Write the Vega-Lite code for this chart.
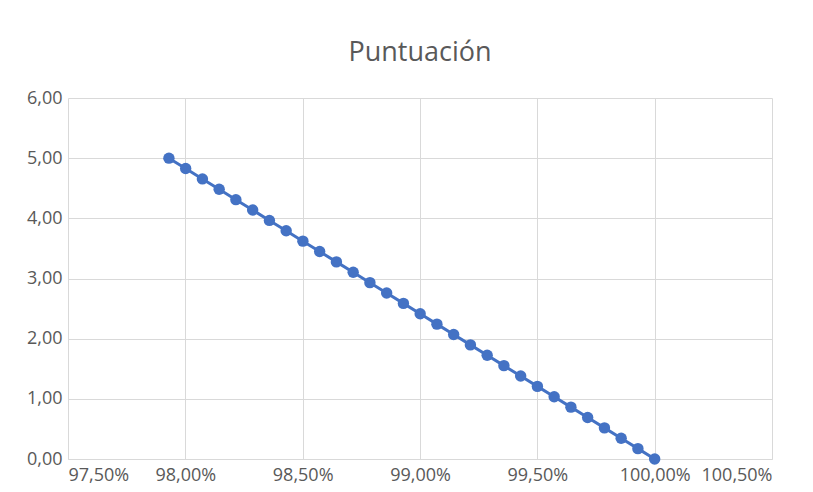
{
  "$schema": "https://vega.github.io/schema/vega-lite/v6.json",
  "width": 704,
  "height": 361,
  "autosize": {"type": "none"},
  "padding": {"left": 68, "top": 98, "right": 41, "bottom": 33},
  "background": "white",
  "title": {"text": "Puntuación", "font": "Open Sans", "fontSize": 27, "fontWeight": "normal", "color": "#595959", "anchor": "middle", "offset": 22},
  "config": {
    "locale": {"number": {"decimal": ",", "thousands": ".", "grouping": [3], "currency": ["", " €"]}},
    "view": {"stroke": null},
    "axis": {"labelFont": "Open Sans", "labelFontSize": 18, "labelColor": "#595959", "gridColor": "#d9d9d9", "gridWidth": 1, "domainColor": "#d9d9d9", "ticks": false, "title": null}
  },
  "data": {"values": [
    {"pct": 0.979300, "score": 5.0000},
    {"pct": 0.980014, "score": 4.8276},
    {"pct": 0.980728, "score": 4.6552},
    {"pct": 0.981441, "score": 4.4828},
    {"pct": 0.982155, "score": 4.3103},
    {"pct": 0.982869, "score": 4.1379},
    {"pct": 0.983583, "score": 3.9655},
    {"pct": 0.984297, "score": 3.7931},
    {"pct": 0.985010, "score": 3.6207},
    {"pct": 0.985724, "score": 3.4483},
    {"pct": 0.986438, "score": 3.2759},
    {"pct": 0.987152, "score": 3.1034},
    {"pct": 0.987866, "score": 2.9310},
    {"pct": 0.988579, "score": 2.7586},
    {"pct": 0.989293, "score": 2.5862},
    {"pct": 0.990007, "score": 2.4138},
    {"pct": 0.990721, "score": 2.2414},
    {"pct": 0.991434, "score": 2.0690},
    {"pct": 0.992148, "score": 1.8966},
    {"pct": 0.992862, "score": 1.7241},
    {"pct": 0.993576, "score": 1.5517},
    {"pct": 0.994290, "score": 1.3793},
    {"pct": 0.995003, "score": 1.2069},
    {"pct": 0.995717, "score": 1.0345},
    {"pct": 0.996431, "score": 0.8621},
    {"pct": 0.997145, "score": 0.6897},
    {"pct": 0.997859, "score": 0.5172},
    {"pct": 0.998572, "score": 0.3448},
    {"pct": 0.999286, "score": 0.1724},
    {"pct": 1.000000, "score": 0.0000}
  ]},
  "encoding": {
    "x": {"field": "pct", "type": "quantitative", "scale": {"domain": [0.975, 1.005], "nice": false, "zero": false},
      "axis": {"values": [0.975, 0.98, 0.985, 0.99, 0.995, 1.0, 1.005], "format": ".2%", "labelPadding": 7, "domain": true}},
    "y": {"field": "score", "type": "quantitative", "scale": {"domain": [0, 6], "nice": false},
      "axis": {"values": [0, 1, 2, 3, 4, 5, 6], "format": ".2f", "labelPadding": 6, "domain": false}}
  },
  "layer": [
    {"mark": {"type": "line", "color": "#4472C4", "strokeWidth": 3}},
    {"mark": {"type": "point", "filled": true, "opacity": 1, "color": "#4472C4", "size": 130}}
  ]
}
